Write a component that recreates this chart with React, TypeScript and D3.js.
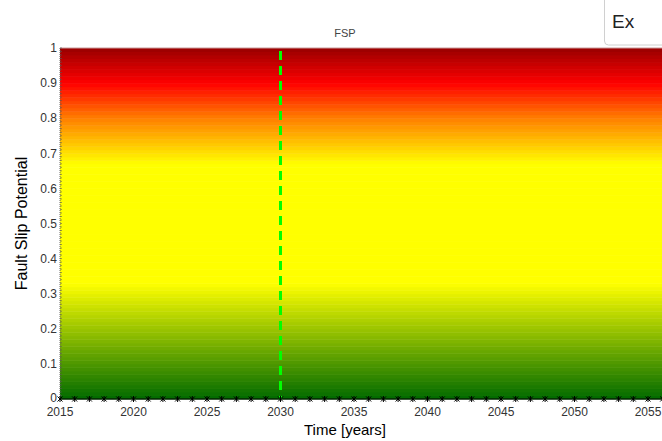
import React from "react";
import * as d3 from "d3";

const years = d3.range(2015, 2057);
const fspValues = years.map(() => 0);
const xTicks = [2015, 2020, 2025, 2030, 2035, 2040, 2045, 2050, 2055];
const yTicks = [0, 0.1, 0.2, 0.3, 0.4, 0.5, 0.6, 0.7, 0.8, 0.9, 1];
const colorStops = [0, 0.33, 0.67, 0.8, 0.9, 1];
const colorValues = ["#006a00", "#ffff00", "#ffff00", "#ff7f00", "#ff0000", "#990000"];
const bandCount = 100;
const markerYear = 2030;

const W = 662, H = 441;
const M = { left: 60, top: 48, bottom: 399 };

export default function App() {
  const x = d3.scaleLinear().domain([2015, 2056]).range([M.left, M.left + 41 * 14.7]);
  const y = d3.scaleLinear().domain([0, 1]).range([M.bottom, M.top]);
  const color = d3.scaleLinear<string>().domain(colorStops).range(colorValues).interpolate(d3.interpolateRgb);
  const bands = d3.range(bandCount).map((i) => i / bandCount);
  const line = d3.line<number>().x((_, i) => x(years[i])).y((d) => y(d));
  const font = "Arial, 'Liberation Sans', sans-serif";
  const minor = d3.range(0, 1.0001, 0.01);
  const x0 = x(2015), x1 = x(2056);
  return (
    <svg width={W} height={H} style={{ position: "absolute", left: 0, top: 0 }}>
      <rect width={W} height={H} fill="#fff" />
      {bands.map((b) => (
        <rect key={b} x={x0} width={x1 - x0} y={y(b + 1 / bandCount)} height={y(b) - y(b + 1 / bandCount) + 0.5}
          fill={color(b + 0.5 / bandCount)} />
      ))}
      <line x1={x0} x2={x1} y1={M.top} y2={M.top} stroke="#c89a9a" strokeWidth={1} />
      <line x1={x0} x2={x0} y1={M.top} y2={M.bottom} stroke="#666" strokeDasharray="1,1" />
      {minor.map((m) => (
        <line key={m} x1={x0} x2={x0 + 2} y1={y(m)} y2={y(m)} stroke="#555" strokeWidth={0.6} />
      ))}
      <line x1={x(markerYear)} x2={x(markerYear)} y1={M.top + 3} y2={M.bottom} stroke="#00ff00" strokeWidth={3} strokeDasharray="9,6" />
      <path d={line(fspValues) || ""} fill="none" stroke="#000" strokeWidth={1.2} />
      {fspValues.map((v, i) => {
        const cx = x(years[i]), cy = y(v);
        return (
          <path key={i} d={`M${cx - 2.5},${cy - 2.5}L${cx + 2.5},${cy + 2.5}M${cx - 2.5},${cy + 2.5}L${cx + 2.5},${cy - 2.5}M${cx},${cy - 3}L${cx},${cy + 3}`}
            stroke="#000" strokeWidth={1} />
        );
      })}
      {yTicks.map((t) => (
        <text key={t} x={57} y={t === 0 ? y(t) - 1 : y(t)} dy="0.35em" textAnchor="end" fontSize={12} fill="#333" fontFamily={font}>
          {String(t)}
        </text>
      ))}
      {xTicks.map((t) => (
        <text key={t} x={x(t)} y={412} dy="0.35em" textAnchor="middle" fontSize={12} fill="#333" fontFamily={font}>
          {t}
        </text>
      ))}
      <text x={345} y={435} textAnchor="middle" fontSize={15} fill="#000" fontFamily={font}>Time [years]</text>
      <text x={345} y={37} textAnchor="middle" fontSize={11} fill="#444" fontFamily={font}>FSP</text>
      <text transform={`translate(27,${(M.top + M.bottom) / 2}) rotate(-90)`} textAnchor="middle" fontSize={16} fill="#000" fontFamily={font}>
        Fault Slip Potential
      </text>
      <rect x={604.5} y={-5} width={70} height={50} rx={4} fill="#fff" stroke="#d0d0d0" />
      <text x={612} y={28} fontSize={19} fill="#222" fontFamily={font}>Ex</text>
    </svg>
  );
}
